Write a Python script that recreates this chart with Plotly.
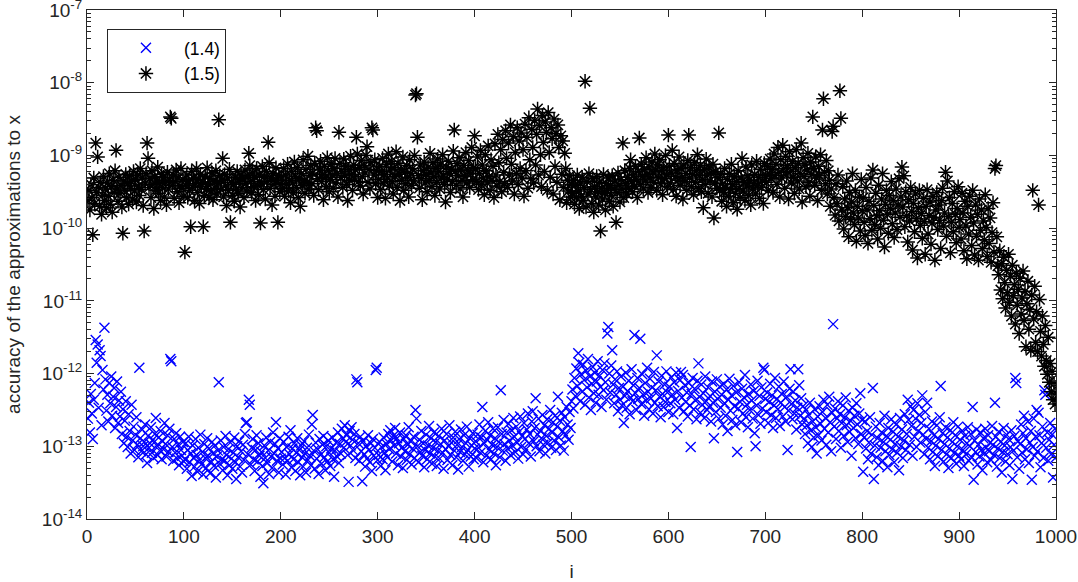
import numpy as np
import plotly.graph_objects as go

# values stored as -log10(accuracy) * 100, for i = 1..1000
# series (1.5), black asterisks
b_000 = [962,948,975,940,958,1009,931,966,883,951,902,944,970,937,981,955,929,962,946,972,
         938,956,925,967,943,978,934,951,921,893,946,963,930,952,941,971,1007,935,948,926,
         958,939,967,928,945,936,960,922,949,933,964,927,942,955,918,947,931,969,1004,938,
         925,883,904,944,932,958,921,940,973,929,948,935,916,952,939,962,926,944,930,957,
         937,968,923,946,934,847,849,941,927,959,936,920,950,931,965,942,918,945,933,956]
b_100 = [1033,941,927,958,935,948,998,922,944,931,962,939,918,951,933,966,926,943,937,998,
         955,929,946,917,940,958,932,949,924,961,936,945,921,953,938,851,928,947,934,904,
         957,926,942,969,931,948,919,992,937,955,940,963,930,946,922,952,935,971,927,944,
         932,958,920,939,949,928,897,914,936,951,924,943,930,962,918,941,954,927,993,938,
         915,947,929,960,922,936,882,910,945,931,968,925,940,956,917,934,992,928,950,939]
b_200 = [931,945,918,956,927,940,912,949,934,965,922,938,951,909,929,944,917,958,932,970,
         925,941,906,935,952,919,937,901,946,928,914,939,924,955,911,862,866,932,947,920,
         908,936,926,961,915,930,943,903,921,950,933,912,927,945,918,904,938,925,957,868,
         911,930,922,944,905,928,915,940,962,919,934,901,926,948,913,931,920,875,898,936,
         917,942,907,929,953,914,924,900,888,937,919,946,910,862,865,927,906,939,921,958]
b_300 = [933,915,947,922,904,938,926,959,912,931,898,942,920,908,936,953,917,929,895,944,
         911,926,962,919,934,902,948,923,939,914,930,957,906,925,941,918,935,900,817,815,
         875,928,945,913,932,961,921,909,938,926,950,916,934,897,924,943,910,929,955,918,
         937,905,922,946,913,931,899,927,940,964,916,933,908,925,951,919,936,894,865,922,
         941,911,928,903,946,920,934,957,914,929,896,938,921,907,944,925,889,933,917,873]
b_400 = [918,936,902,947,925,893,940,913,931,954,899,921,938,887,929,948,906,934,915,958,
         884,927,942,871,910,936,892,950,878,923,939,866,904,944,883,927,858,912,935,874,
         953,896,925,862,940,880,918,869,931,892,956,857,921,875,945,848,906,932,864,889,
         938,852,913,871,836,927,859,899,943,845,882,922,854,868,948,841,896,930,862,877,
         953,850,915,870,937,858,889,961,873,926,880,944,897,918,965,934,949,928,957,940]
b_500 = [952,934,967,941,958,927,949,973,938,956,930,962,944,798,971,936,953,925,835,947,
         966,932,978,943,957,929,950,968,937,1004,945,960,926,952,975,939,948,931,963,942,
         955,928,970,946,935,992,951,924,941,964,933,947,883,958,921,939,953,930,945,918,
         906,936,950,927,942,915,933,958,922,876,940,912,929,946,919,935,903,926,951,916,
         931,944,909,924,937,898,920,948,913,930,906,939,921,954,917,932,900,927,943,872]
b_600 = [915,938,924,893,947,911,929,956,920,934,902,941,918,930,960,913,936,925,948,907,
         872,931,917,943,926,954,910,937,921,899,945,928,914,950,933,972,919,940,905,927,
         952,916,935,924,957,912,986,938,922,945,930,869,948,926,963,939,951,918,944,970,
         933,956,925,947,912,940,965,929,952,936,974,921,945,958,931,904,949,937,962,916,
         942,928,955,934,968,913,946,939,926,953,908,941,930,959,919,944,935,966,911,928]
b_700 = [937,915,948,926,905,932,919,951,898,928,912,940,889,923,957,906,931,886,918,945,
         901,927,914,960,895,922,938,908,930,952,917,892,935,911,946,925,883,964,903,929,
         913,943,920,897,937,956,909,926,847,918,941,902,931,962,915,928,899,948,865,822,
         923,939,907,953,921,934,970,946,867,860,958,982,939,966,927,990,811,849,975,943,
         1001,960,984,935,972,1012,951,988,964,925,979,995,948,1018,970,986,957,1004,933,976]
b_800 = [958,992,1010,944,975,1021,963,987,931,1003,920,969,995,952,983,1015,941,976,1000,960,
         925,989,1026,967,948,981,1007,955,973,936,994,962,1013,979,946,1002,968,932,985,957,
         916,971,928,998,950,983,1019,961,990,944,977,1030,966,1005,953,987,1041,972,948,996,
         980,1014,959,991,1036,970,947,1008,983,964,1022,993,956,985,1044,975,951,1002,968,989,
         1028,962,945,997,979,923,1011,935,984,958,1034,992,966,1005,950,981,1020,973,943,999]
b_900 = [988,1015,952,979,1031,963,997,1042,970,1008,956,985,1024,948,993,1037,968,1011,981,1044,
         960,1003,975,1028,990,1016,954,999,1039,973,1021,986,1047,1006,965,1033,918,914,1012,1052,
         1064,1031,1085,1049,1097,1040,1075,1110,1058,1089,1036,1102,1066,1121,1051,1093,1078,1132,1062,1106,
         1084,1145,1069,1118,1096,1059,1127,1087,1163,1104,1073,1139,1112,1168,1092,948,1125,1080,1157,1115,
         1170,968,1098,1142,1176,1121,1160,1190,1134,1182,1201,1150,1212,1186,1225,1197,1236,1214,1242,1228]

# series (1.4), blue crosses
x_000 = [1262,1240,1281,1228,1255,1290,1236,1213,1154,1185,1160,1247,1168,1176,1271,1195,1222,1137,1208,1251,
         1229,1266,1213,1241,1204,1258,1232,1220,1275,1246,1211,1268,1237,1259,1225,1283,1249,1296,1265,1238,
         1287,1301,1256,1279,1310,1243,1292,1273,1305,1284,1260,1298,1315,1192,1289,1307,1277,1300,1294,1270,
         1311,1323,1286,1302,1296,1274,1309,1291,1316,1283,1261,1299,1312,1288,1306,1279,1318,1293,1304,1268,
         1297,1314,1285,1308,1276,1180,1183,1301,1320,1290,1309,1282,1317,1298,1326,1287,1305,1313,1294,1321]
x_100 = [1318,1296,1331,1305,1287,1322,1310,1341,1299,1316,1328,1290,1312,1335,1302,1319,1284,1325,1308,1339,
         1297,1316,1330,1289,1313,1303,1337,1321,1294,1310,1327,1299,1343,1314,1306,1212,1324,1292,1318,1333,
         1301,1320,1286,1312,1340,1304,1326,1295,1317,1331,1309,1288,1322,1345,1300,1315,1293,1328,1307,1336,
         1298,1319,1283,1268,1267,1311,1236,1243,1325,1302,1290,1318,1334,1305,1285,1321,1296,1313,1342,1308,
         1327,1351,1299,1316,1288,1323,1306,1338,1294,1314,1330,1281,1310,1297,1267,1320,1303,1336,1289,1317]
x_200 = [1308,1325,1294,1316,1339,1301,1320,1287,1311,1278,1329,1303,1318,1296,1334,1309,1289,1322,1305,1340,
         1299,1315,1328,1293,1310,1336,1302,1319,1284,1313,1326,1270,1257,1306,1331,1295,1317,1304,1338,1290,
         1312,1324,1298,1286,1315,1333,1300,1321,1292,1309,1327,1303,1288,1318,1342,1306,1295,1314,1281,1323,
         1297,1310,1276,1289,1302,1271,1294,1285,1312,1349,1279,1299,1274,1291,1306,1283,1316,1208,1212,1296,
         1320,1287,1307,1348,1293,1311,1328,1300,1317,1285,1305,1322,1296,1334,1290,1313,1302,1195,1192,1319]
x_300 = [1312,1294,1327,1301,1318,1288,1309,1333,1297,1315,1283,1304,1278,1292,1321,1286,1299,1275,1310,1289,
         1326,1296,1281,1314,1302,1330,1290,1307,1285,1319,1298,1274,1311,1293,1325,1303,1287,1316,1250,1262,
         1300,1322,1291,1308,1279,1313,1296,1329,1305,1284,1318,1299,1272,1310,1289,1324,1302,1281,1314,1294,
         1327,1306,1286,1317,1297,1276,1309,1331,1292,1304,1283,1319,1300,1271,1312,1295,1326,1288,1306,1280,
         1315,1298,1332,1290,1308,1277,1301,1320,1285,1311,1296,1273,1305,1328,1289,1314,1299,1282,1318,1303]
x_400 = [1293,1316,1284,1302,1270,1309,1288,1246,1322,1296,1279,1313,1291,1267,1305,1285,1318,1298,1276,1310,
         1289,1326,1301,1274,1294,1315,1223,1283,1306,1264,1297,1320,1281,1303,1269,1292,1312,1278,1299,1261,
         1287,1308,1273,1295,1317,1280,1259,1301,1286,1311,1268,1290,1304,1277,1255,1296,1283,1314,1266,1252,
         1293,1275,1234,1300,1284,1262,1307,1279,1289,1257,1298,1271,1310,1286,1263,1295,1276,1250,1302,1281,
         1267,1292,1258,1305,1273,1232,1288,1265,1299,1254,1279,1306,1260,1285,1246,1270,1291,1253,1275,1238]
x_500 = [1222,1248,1206,1231,1193,1217,1172,1185,1238,1201,1225,1188,1209,1243,1196,1219,1180,1233,1204,1250,
         1214,1191,1227,1199,1240,1211,1183,1229,1203,1218,1246,1195,1223,1186,1212,1236,1145,1136,1200,1226,
         1189,1168,1215,1241,1208,1229,1197,1252,1220,1236,1204,1244,1218,1268,1231,1199,1247,1224,1210,1256,
         1233,1194,1238,1216,1147,1227,1250,1206,1235,1220,1152,1242,1201,1229,1258,1213,1237,1192,1225,1249,
         1207,1234,1219,1255,1198,1240,1223,1175,1245,1211,1232,1260,1203,1228,1246,1215,1239,1197,1226,1253]
x_600 = [1218,1241,1205,1229,1256,1212,1236,1199,1275,1224,1247,1209,1198,1233,1202,1252,1216,1239,1226,1259,
         1213,1244,1301,1228,1206,1249,1221,1237,1263,1210,1186,1232,1254,1215,1243,1227,1261,1204,1238,1250,
         1219,1246,1231,1266,1211,1240,1289,1225,1253,1208,1235,1262,1218,1247,1229,1270,1214,1241,1258,1222,
         1279,1236,1207,1251,1230,1264,1217,1245,1271,1226,1308,1248,1212,1239,1267,1221,1255,1233,1202,1260,
         1243,1274,1228,1250,1215,1237,1262,1224,1282,1300,1244,1210,1257,1231,1269,1219,1248,1192,1195,1235]
x_700 = [1253,1226,1268,1239,1214,1257,1230,1275,1244,1206,1261,1235,1249,1218,1272,1240,1228,1259,1211,1246,
         1266,1232,1305,1251,1221,1194,1242,1263,1225,1255,1237,1277,1247,1194,1216,1258,1234,1270,1245,1262,
         1283,1250,1271,1296,1257,1240,1278,1301,1266,1288,1249,1274,1310,1259,1285,1245,1269,1292,1253,1236,
         1276,1261,1298,1243,1281,1232,1267,1307,1254,1132,1273,1248,1290,1262,1238,1279,1256,1302,1268,1244,
         1286,1260,1233,1271,1294,1251,1280,1265,1313,1247,1275,1258,1289,1241,1270,1297,1255,1227,1283,1264]
x_800 = [1335,1288,1266,1303,1279,1318,1295,1260,1310,1284,1220,1345,1299,1273,1315,1289,1326,1268,1302,1281,
         1320,1294,1258,1307,1286,1329,1275,1312,1291,1263,1304,1280,1322,1297,1270,1309,1287,1333,1261,1300,
         1277,1316,1292,1256,1305,1283,1236,1264,1298,1245,1272,1313,1250,1287,1262,1301,1241,1279,1257,1295,
         1268,1230,1284,1311,1253,1290,1240,1302,1276,1318,1293,1266,1308,1285,1327,1299,1271,1314,1290,1260,
         1217,1305,1282,1321,1297,1274,1311,1288,1330,1303,1278,1316,1294,1267,1309,1285,1324,1300,1273,1313]
x_900 = [1291,1318,1279,1305,1327,1286,1311,1296,1274,1320,1300,1283,1315,1246,1346,1292,1308,1277,1325,1298,
         1314,1281,1305,1333,1289,1310,1276,1302,1322,1285,1307,1295,1319,1272,1298,1312,1240,1287,1328,1303,
         1280,1316,1294,1336,1308,1275,1299,1321,1284,1311,1290,1326,1301,1278,1345,1306,1286,1206,1213,1315,
         1293,1331,1297,1270,1309,1282,1258,1318,1289,1304,1266,1323,1295,1279,1346,1301,1262,1313,1287,1250,
         1307,1254,1285,1329,1296,1273,1316,1223,1229,1302,1281,1320,1291,1268,1311,1284,1343,1298,1276,1315]

black_chunks = [b_000, b_100, b_200, b_300, b_400, b_500, b_600, b_700, b_800, b_900]
blue_chunks = [x_000, x_100, x_200, x_300, x_400, x_500, x_600, x_700, x_800, x_900]

series_names = ["(1.4)", "(1.5)"]
y_title = "accuracy of the approximations to x"
x_title = "i"
x_ticks = [0, 100, 200, 300, 400, 500, 600, 700, 800, 900, 1000]
y_decades = [-14, -13, -12, -11, -10, -9, -8, -7]

blue_v = np.concatenate([np.array(c, dtype=float) for c in blue_chunks])
black_v = np.concatenate([np.array(c, dtype=float) for c in black_chunks])
idx = np.arange(1, len(blue_v) + 1)
blue_y = 10.0 ** (-blue_v / 100.0)
black_y = 10.0 ** (-black_v / 100.0)

major_vals = [10.0 ** d for d in y_decades]
major_text = ["10<sup>%d</sup>" % d for d in y_decades]
minor_vals = [m * 10.0 ** d for d in y_decades[:-1] for m in range(2, 10)]

FONT = "Liberation Sans, Arial, Helvetica, sans-serif"
AX = "#262626"

fig = go.Figure()
fig.add_trace(go.Scatter(
    x=idx, y=blue_y, mode="markers", name=series_names[0],
    marker=dict(symbol="x-thin", size=10, color="#0000ff",
                line=dict(width=1.4, color="#0000ff")),
    hoverinfo="skip"))
fig.add_trace(go.Scatter(
    x=idx, y=black_y, mode="markers", name=series_names[1],
    marker=dict(symbol="asterisk", size=12, color="#000000",
                line=dict(width=1.5, color="#000000")),
    hoverinfo="skip"))
# empty trace carrying the minor-tick axis
fig.add_trace(go.Scatter(x=[None], y=[None], yaxis="y2", showlegend=False,
                         hoverinfo="skip", mode="markers"))

yr = [-14.0005, -6.9995]

fig.update_layout(
    width=1078, height=582,
    margin=dict(l=87, r=22, t=10, b=63),
    paper_bgcolor="white", plot_bgcolor="white",
    font=dict(family=FONT, size=19, color=AX),
    showlegend=True,
    xaxis=dict(
        range=[0, 1000], tickmode="array", tickvals=x_ticks, automargin=False,
        showline=True, linecolor=AX, linewidth=1, mirror="ticks",
        ticks="inside", tickcolor=AX, ticklen=7, tickwidth=1,
        showgrid=False, zeroline=False, ticklabeloverflow="allow",
        tickfont=dict(family=FONT, size=19, color=AX),
        title=dict(text=x_title, font=dict(family=FONT, size=19, color=AX), standoff=18),
    ),
    yaxis=dict(
        type="log", range=yr, tickmode="array", tickvals=major_vals, ticktext=major_text,
        automargin=False, ticklabeloverflow="allow",
        showline=True, linecolor=AX, linewidth=1, mirror="ticks",
        ticks="inside", tickcolor=AX, ticklen=7, tickwidth=1,
        showgrid=False, zeroline=False,
        tickfont=dict(family=FONT, size=19, color=AX),
        title=dict(text=y_title, font=dict(family=FONT, size=19, color=AX), standoff=16),
    ),
    yaxis2=dict(
        type="log", range=yr, overlaying="y", side="left",
        tickmode="array", tickvals=minor_vals, showticklabels=False,
        ticks="inside", tickcolor=AX, ticklen=4, tickwidth=1,
        showline=False, mirror="ticks", showgrid=False, zeroline=False,
        automargin=False,
    ),
    legend=dict(x=0.0206, y=0.963, xanchor="left", yanchor="top",
                bgcolor="white", bordercolor=AX, borderwidth=1,
                font=dict(family=FONT, size=17.5, color="#000000"),
                itemwidth=66, tracegroupgap=0),
)

fig.write_html("out.html")
